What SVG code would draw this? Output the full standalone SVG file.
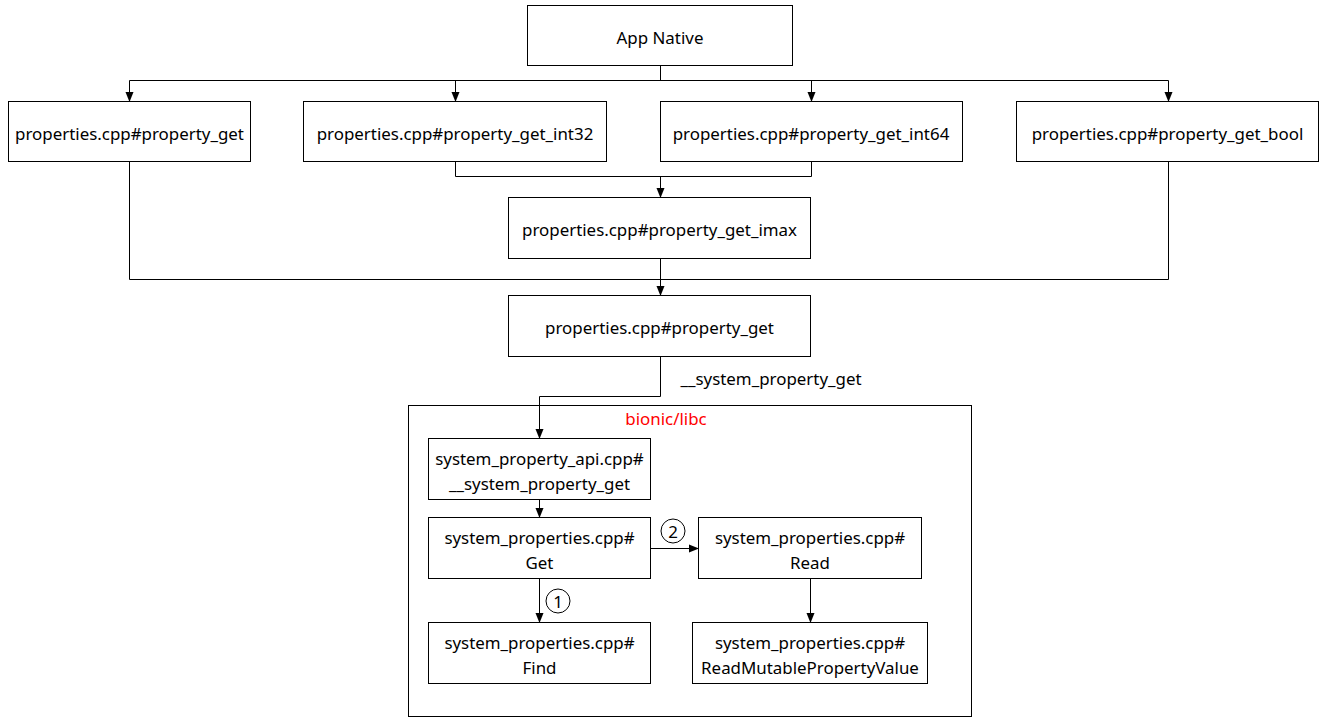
<svg xmlns="http://www.w3.org/2000/svg" width="1330" height="724" viewBox="0 0 1330 724">
<style>
.box{fill:#fff;stroke:#000;stroke-width:1}
.t{font-family:"Noto Sans","Open Sans",sans-serif;font-size:16.9px;fill:#000;text-anchor:middle;dominant-baseline:central}
.c{fill:none;stroke:#000;stroke-width:1}
.red{fill:#ff0000}
</style>
<defs>
<marker id="a" markerWidth="10" markerHeight="10" refX="9" refY="5" orient="auto" markerUnits="userSpaceOnUse">
<path d="M0,1 L10,5 L0,9 Z" fill="#000"/>
</marker>
</defs>
<rect width="1330" height="724" fill="#fff"/>
<g id="container-bionic">
<rect class="box" x="408.5" y="405.5" width="563" height="311"/>
<text class="t red" x="666" y="418">bionic/libc</text>
</g>
<g id="connectors">
<path class="c" d="M660.5,65 V80.5 M129.5,80.5 H1168.5"/>
<path class="c" d="M129.5,80.5 V101" marker-end="url(#a)"/>
<path class="c" d="M455.5,80.5 V101" marker-end="url(#a)"/>
<path class="c" d="M811.5,80.5 V101" marker-end="url(#a)"/>
<path class="c" d="M1168.5,80.5 V101" marker-end="url(#a)"/>
<path class="c" d="M455.5,161 V176.5 H811.5 V161"/>
<path class="c" d="M660.5,176.5 V197" marker-end="url(#a)"/>
<path class="c" d="M129.5,161 V279.5 H1168.5 V161"/>
<path class="c" d="M660.5,258 V295" marker-end="url(#a)"/>
<path class="c" d="M660.5,356 V396.5 H539.5 V438" marker-end="url(#a)"/>
<path class="c" d="M539.5,499 V517" marker-end="url(#a)"/>
<path class="c" d="M539.5,578 V622" marker-end="url(#a)"/>
<path class="c" d="M651,548.5 H698" marker-end="url(#a)"/>
<path class="c" d="M810.5,578 V622" marker-end="url(#a)"/>
<text class="t" x="771" y="378">__system_property_get</text>
<circle class="c" cx="558" cy="601" r="12"/>
<text class="t" x="558" y="601">1</text>
<circle class="c" cx="673" cy="531" r="12"/>
<text class="t" x="673" y="531">2</text>
</g>
<g id="app-native">
<rect class="box" x="527.5" y="5.5" width="265" height="60"/>
<text class="t" x="660" y="37">App Native</text>
</g>
<g id="property-get-top">
<rect class="box" x="8.5" y="101.5" width="242" height="60"/>
<text class="t" x="129.5" y="133">properties.cpp#property_get</text>
</g>
<g id="property-get-int32">
<rect class="box" x="303.5" y="101.5" width="303" height="60"/>
<text class="t" x="455" y="133">properties.cpp#property_get_int32</text>
</g>
<g id="property-get-int64">
<rect class="box" x="660.5" y="101.5" width="302" height="60"/>
<text class="t" x="811" y="133">properties.cpp#property_get_int64</text>
</g>
<g id="property-get-bool">
<rect class="box" x="1016.5" y="101.5" width="302" height="60"/>
<text class="t" x="1167.5" y="133">properties.cpp#property_get_bool</text>
</g>
<g id="property-get-imax">
<rect class="box" x="508.5" y="197.5" width="302" height="61"/>
<text class="t" x="659.5" y="229">properties.cpp#property_get_imax</text>
</g>
<g id="property-get">
<rect class="box" x="508.5" y="295.5" width="302" height="61"/>
<text class="t" x="659.5" y="327">properties.cpp#property_get</text>
</g>
<g id="api-get">
<rect class="box" x="428.5" y="438.5" width="222" height="61"/>
<text class="t" x="539.5" y="458">system_property_api.cpp#</text>
<text class="t" x="539.5" y="483">__system_property_get</text>
</g>
<g id="sp-get">
<rect class="box" x="428.5" y="517.5" width="222" height="61"/>
<text class="t" x="539.5" y="537">system_properties.cpp#</text>
<text class="t" x="539.5" y="562">Get</text>
</g>
<g id="sp-find">
<rect class="box" x="428.5" y="622.5" width="222" height="61"/>
<text class="t" x="539.5" y="642">system_properties.cpp#</text>
<text class="t" x="539.5" y="667">Find</text>
</g>
<g id="sp-read">
<rect class="box" x="698.5" y="517.5" width="223" height="61"/>
<text class="t" x="810" y="537">system_properties.cpp#</text>
<text class="t" x="810" y="562">Read</text>
</g>
<g id="sp-read-mutable">
<rect class="box" x="692.5" y="622.5" width="235" height="61"/>
<text class="t" x="810" y="642">system_properties.cpp#</text>
<text class="t" x="810" y="667">ReadMutablePropertyValue</text>
</g>
</svg>
